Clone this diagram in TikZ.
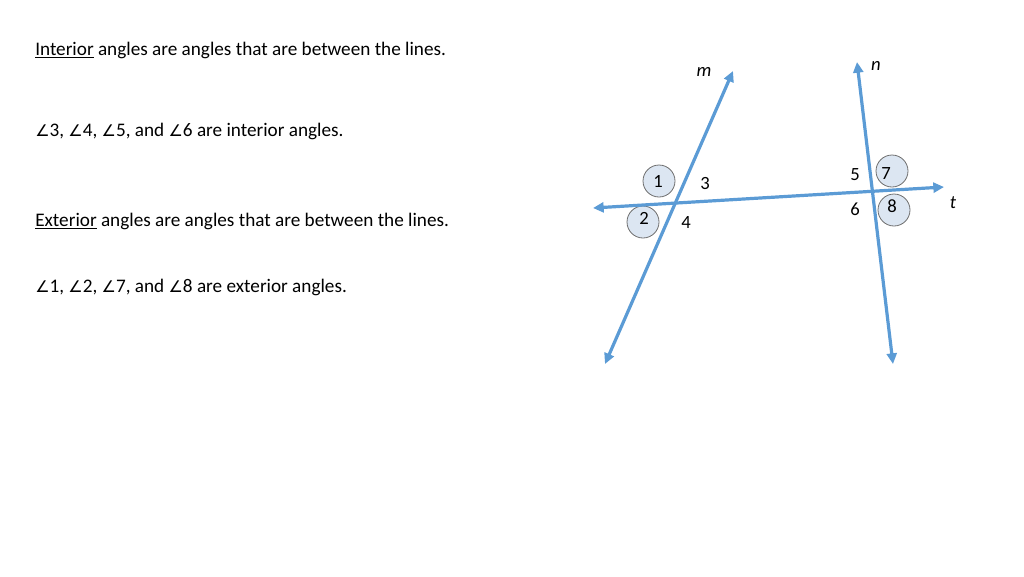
\documentclass[tikz,border=0pt]{standalone}
\usepackage{fontspec}
\setmainfont{Carlito}
\newfontfamily\symfont{DejaVu Sans}
\usetikzlibrary{arrows.meta}
\definecolor{lineblue}{RGB}{91,155,213}
\definecolor{circfill}{RGB}{220,230,242}
\definecolor{circdraw}{RGB}{110,110,110}
\newcommand{\ang}{{\symfont\fontsize{12}{14}\selectfont ∠}}
\tikzset{
  txt/.style={anchor=west, font=\fontsize{14.4}{17}\selectfont, inner sep=0pt},
  ray/.style={draw=lineblue, line width=2.4pt, {Triangle[length=8pt,width=7.5pt]}-{Triangle[length=8pt,width=7.5pt]}},
  lbl/.style={font=\fontsize{14}{16}\selectfont, inner sep=0pt},
  linelbl/.style={font=\itshape\fontsize{14}{16}\selectfont, inner sep=0pt},
  circ/.style={circle, draw=circdraw, line width=0.6pt, fill=circfill, minimum size=32pt*0.75, inner sep=0pt}
}
\begin{document}
\begin{tikzpicture}[x=0.75pt,y=-0.75pt]
\useasboundingbox (0,0) rectangle (1024,576);
% text
\node[txt] (t1) at (35,50) {\underline{Interior} angles are angles that are between the lines.};
\node[txt] (t2) at (35,131) {\ang3, \ang4, \ang5, and \ang6 are interior angles.};
\node[txt] (t3) at (35,221) {\underline{Exterior} angles are angles that are between the lines.};
\node[txt] (t4) at (35,287) {\ang1, \ang2, \ang7, and \ang8 are exterior angles.};
% circles
\node[circ] (c1) at (659,181) {};
\node[circ] (c2) at (643,222) {};
\node[circ] (c7) at (892,171) {};
\node[circ] (c8) at (894,210) {};
% lines
\coordinate (mb) at (605,364);
\coordinate (mt) at (733,71);
\coordinate (nt) at (857,62);
\coordinate (nb) at (893,364);
\coordinate (tl) at (593,208);
\coordinate (tr) at (944,187);
\draw[ray] (mb) -- (mt);
\draw[ray] (nt) -- (nb);
\draw[ray] (tl) -- (tr);
% labels
\node[lbl] (l1) at (658,181) {1};
\node[lbl] (l2) at (644,218) {2};
\node[lbl] (l3) at (705,183) {3};
\node[lbl] (l4) at (686,222) {4};
\node[lbl] (l5) at (855,175) {5};
\node[lbl] (l6) at (855,209) {6};
\node[lbl] (l7) at (886,174) {7};
\node[lbl] (l8) at (892,206) {8};
\node[linelbl] (lm) at (704,72) {m};
\node[linelbl] (ln) at (876,66) {n};
\node[linelbl] (lt) at (953,203) {t};
\end{tikzpicture}
\end{document}
